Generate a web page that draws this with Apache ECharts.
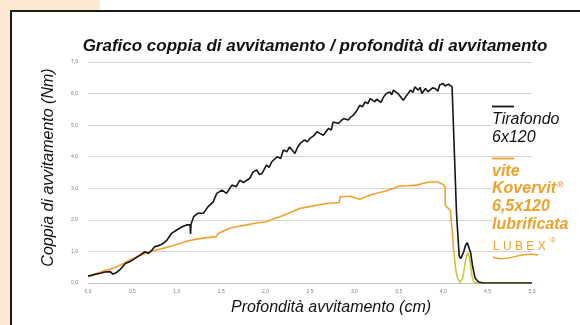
<!DOCTYPE html>
<html>
<head>
<meta charset="utf-8">
<script src="https://cdn.jsdelivr.net/npm/echarts@6/dist/echarts.min.js"></script>
<style>
  html, body { margin: 0; padding: 0; background: #ffffff; }
  #chart { width: 580px; height: 325px; }
</style>
</head>
<body>
<div id="chart"></div>
<script>
// Screw-in torque (Nm) against screw-in depth (cm)
const titleText = 'Grafico coppia di avvitamento / profondità di avvitamento';
const xAxisName = 'Profondità avvitamento (cm)';
const yAxisName = 'Coppia di avvitamento (Nm)';

// Tirafondo 6x120
const depthTirafondo = [
  0.00, 0.05, 0.10, 0.14, 0.19, 0.25, 0.28, 0.32, 0.36, 0.42, 0.47, 0.53, 0.59, 0.64, 0.68,
  0.72, 0.75, 0.81, 0.85, 0.89, 0.94, 1.00, 1.06, 1.11, 1.15, 1.155, 1.16, 1.19, 1.24, 1.30,
  1.35, 1.41, 1.45, 1.51, 1.56, 1.62, 1.67, 1.71, 1.75, 1.78, 1.82, 1.86, 1.90, 1.93, 1.96,
  2.01, 2.04, 2.07, 2.13, 2.17, 2.20, 2.24, 2.27, 2.33, 2.36, 2.39, 2.44, 2.47, 2.50, 2.54,
  2.58, 2.61, 2.65, 2.71, 2.74, 2.76, 2.82, 2.85, 2.88, 2.93, 2.96, 2.99, 3.03, 3.06, 3.09,
  3.12, 3.15, 3.18, 3.23, 3.25, 3.27, 3.30, 3.33, 3.36, 3.40, 3.42, 3.44, 3.49, 3.52, 3.55,
  3.59, 3.61, 3.63, 3.66, 3.68, 3.72, 3.74, 3.76, 3.80, 3.83, 3.85, 3.88, 3.91, 3.94, 3.96,
  4.00, 4.02, 4.04, 4.06, 4.08, 4.10, 4.12, 4.15, 4.18, 4.20, 4.23, 4.25, 4.27, 4.29, 4.31,
  4.33, 4.36, 4.40, 4.45, 5.00
];
const torqueTirafondo = [
  0.22, 0.25, 0.29, 0.31, 0.35, 0.36, 0.28, 0.33, 0.42, 0.62, 0.67, 0.78, 0.89, 0.99, 0.94,
  1.04, 1.15, 1.20, 1.26, 1.36, 1.57, 1.68, 1.78, 1.84, 1.84, 1.55, 1.86, 2.10, 2.21, 2.21,
  2.41, 2.57, 2.84, 2.94, 2.84, 3.10, 3.05, 3.26, 3.18, 3.24, 3.31, 3.52, 3.58, 3.44, 3.47,
  3.73, 3.66, 3.84, 4.00, 3.94, 4.21, 4.16, 4.31, 4.10, 4.30, 4.42, 4.53, 4.47, 4.58, 4.66,
  4.79, 4.74, 4.68, 4.90, 4.84, 5.10, 5.05, 5.14, 5.21, 5.16, 5.26, 5.32, 5.47, 5.63, 5.58,
  5.74, 5.68, 5.84, 5.74, 5.82, 5.79, 5.72, 5.90, 6.00, 6.05, 5.96, 6.11, 6.00, 5.90, 5.79,
  5.95, 6.02, 6.11, 6.04, 6.21, 6.11, 6.19, 6.00, 6.16, 6.06, 6.05, 6.18, 6.16, 6.08, 6.27,
  6.32, 6.24, 6.21, 6.30, 6.27, 6.21, 4.60, 2.20, 0.85, 0.78, 0.98, 1.18, 1.28, 1.22, 0.95,
  0.55, 0.15, 0.03, 0.00, 0.00
];

// vite Kovervit 6,5x120 lubrificata
const depthKovervit = [
  0.00, 0.10, 0.20, 0.30, 0.40, 0.47, 0.55, 0.66, 0.75, 0.85, 0.95, 1.04, 1.12, 1.22, 1.32,
  1.45, 1.46, 1.52, 1.60, 1.70, 1.79, 1.90, 2.01, 2.10, 2.16, 2.25, 2.39, 2.50, 2.60, 2.70,
  2.83, 2.84, 2.95, 3.06, 3.15, 3.25, 3.32, 3.42, 3.51, 3.60, 3.70, 3.78, 3.85, 3.94, 4.00,
  4.02, 4.025, 4.08, 4.10, 4.12, 4.14, 4.16, 4.19, 4.22, 4.24, 4.26, 4.28, 4.30, 4.32, 4.34,
  4.38, 5.00
];
const torqueKovervit = [
  0.20, 0.30, 0.40, 0.48, 0.62, 0.73, 0.83, 0.95, 1.03, 1.10, 1.18, 1.26, 1.33, 1.39, 1.43,
  1.47, 1.56, 1.64, 1.74, 1.80, 1.84, 1.90, 1.94, 2.04, 2.10, 2.20, 2.37, 2.42, 2.48, 2.52,
  2.55, 2.73, 2.75, 2.65, 2.76, 2.84, 2.89, 2.98, 3.07, 3.08, 3.10, 3.16, 3.20, 3.20, 3.12,
  3.05, 2.45, 2.31, 1.68, 1.00, 0.45, 0.16, 0.02, 0.15, 0.50, 0.83, 0.96, 0.75, 0.30, 0.05,
  0.00, 0.00
];

const yTicks = ['0,0', '1,0', '2,0', '3,0', '4,0', '5,0', '6,0', '7,0'];
const xTicks = ['0,0', '0,5', '1,0', '1,5', '2,0', '2,5', '3,0', '3,5', '4,0', '4,5', '5,0'];

const zip = (xs, ys) => xs.map((x, i) => [x, ys[i]]);

const BLACK = '#151515';
const ORANGE = '#f0a12c';
const TAIL = '#cfc63a';
const LABEL = "'Liberation Sans Narrow', 'Liberation Sans', sans-serif";
const PLAIN = "'Liberation Sans', sans-serif";

// Kovervit stroke turns yellowish once the screw head seats (canvas-space gradient)
const kovervitStroke = {
  type: 'linear', x: 0, y: 0, x2: 580, y2: 0, global: true,
  colorStops: [
    { offset: 0, color: ORANGE },
    { offset: 452 / 580, color: ORANGE },
    { offset: 456 / 580, color: TAIL },
    { offset: 1, color: TAIL }
  ]
};

const keyText = (x, y, text, color, bold) => ({
  type: 'text', x, y, silent: true, z: 100,
  style: {
    text, fill: color, backgroundColor: '#ffffff',
    fontFamily: LABEL, fontStyle: 'italic', fontWeight: bold ? 'bold' : 'normal', fontSize: 16
  }
});

const chart = echarts.init(document.getElementById('chart'), null, { renderer: 'canvas' });

chart.setOption({
  animation: false,
  backgroundColor: '#ffffff',
  title: {
    text: titleText,
    left: 310,
    top: 33,
    textAlign: 'center',
    textStyle: {
      fontFamily: LABEL,
      fontStyle: 'italic',
      fontWeight: 'bold',
      fontSize: 17,
      color: '#111111'
    }
  },
  grid: { left: 88, right: 48, top: 62, bottom: 42 },
  xAxis: {
    type: 'value',
    min: 0,
    max: 5,
    interval: 0.5,
    name: xAxisName,
    nameLocation: 'middle',
    nameGap: 17,
    nameTextStyle: {
      fontFamily: PLAIN,
      fontStyle: 'italic',
      fontSize: 16,
      color: '#111111',
      padding: [0, 0, 0, 42]
    },
    axisLine: { show: true, lineStyle: { color: '#bfc4c8', width: 1 } },
    axisTick: { show: false },
    splitLine: { show: false },
    axisLabel: {
      margin: 6,
      fontSize: 5,
      color: '#7a7a7a',
      fontFamily: PLAIN,
      formatter: v => xTicks[Math.round(v / 0.5)]
    }
  },
  yAxis: {
    type: 'value',
    min: 0,
    max: 7,
    interval: 1,
    name: yAxisName,
    nameLocation: 'middle',
    nameGap: 31,
    nameRotate: 90,
    nameTextStyle: {
      fontFamily: PLAIN,
      fontStyle: 'italic',
      fontSize: 16,
      color: '#111111',
      padding: [0, 0, 0, 10]
    },
    axisLine: { show: false },
    axisTick: { show: false },
    splitLine: { show: true, lineStyle: { color: '#d3d3d3', width: 1 } },
    axisLabel: {
      margin: 10,
      fontSize: 5,
      color: '#7a7a7a',
      fontFamily: PLAIN,
      formatter: v => yTicks[Math.round(v)]
    }
  },
  series: [
    {
      name: 'Tirafondo 6x120',
      type: 'line',
      data: zip(depthTirafondo, torqueTirafondo),
      showSymbol: false,
      lineStyle: { color: BLACK, width: 1.6 },
      itemStyle: { color: BLACK },
      z: 3
    },
    {
      name: 'vite Kovervit 6,5x120 lubrificata',
      type: 'line',
      data: zip(depthKovervit, torqueKovervit),
      showSymbol: false,
      lineStyle: { color: kovervitStroke, width: 1.6 },
      itemStyle: { color: ORANGE },
      z: 2
    }
  ],
  graphic: [
    // page background strip and frame
    { type: 'rect', shape: { x: 0, y: 0, width: 100, height: 10 }, style: { fill: '#fde9d2' }, silent: true },
    { type: 'rect', shape: { x: 0, y: 0, width: 10, height: 325 }, style: { fill: '#fde9d2' }, silent: true },
    { type: 'line', shape: { x1: 10, y1: 11, x2: 580, y2: 11 }, style: { stroke: '#1a1a1a', lineWidth: 2 }, silent: true },
    { type: 'line', shape: { x1: 11, y1: 10, x2: 11, y2: 325 }, style: { stroke: '#1a1a1a', lineWidth: 2 }, silent: true },

    // key: Tirafondo
    { type: 'line', shape: { x1: 492, y1: 106.5, x2: 514, y2: 106.5 }, style: { stroke: BLACK, lineWidth: 1.8 }, silent: true },
    keyText(492, 112, 'Tirafondo', '#111111', false),
    keyText(492, 130, '6x120', '#111111', false),

    // key: Kovervit
    { type: 'line', shape: { x1: 492, y1: 158.5, x2: 514, y2: 158.5 }, style: { stroke: ORANGE, lineWidth: 1.8 }, silent: true },
    keyText(492, 164, 'vite', ORANGE, true),
    {
      type: 'text', x: 492, y: 181, silent: true, z: 100,
      style: {
        text: '{k|Kovervit}{r|®}',
        backgroundColor: '#ffffff',
        rich: {
          k: { fill: ORANGE, fontFamily: LABEL, fontStyle: 'italic', fontWeight: 'bold', fontSize: 16 },
          r: { fill: ORANGE, fontFamily: PLAIN, fontWeight: 'bold', fontSize: 9, verticalAlign: 'top', padding: [0, 0, 6, 1] }
        }
      }
    },
    keyText(492, 199, '6,5x120', ORANGE, true),
    keyText(492, 217, 'lubrificata', ORANGE, true),
    { type: 'text', x: 493, y: 241, silent: true, style: { text: 'L U B E X', fill: ORANGE, fontFamily: PLAIN, fontSize: 12 } },
    { type: 'text', x: 550, y: 237, silent: true, style: { text: '®', fill: ORANGE, fontFamily: PLAIN, fontSize: 8 } },
    {
      type: 'bezierCurve', silent: true,
      shape: { x1: 493, y1: 257, cpx1: 505, cpy1: 263, cpx2: 522, cpy2: 251, x2: 538, y2: 255 },
      style: { stroke: ORANGE, lineWidth: 1.4, fill: null }
    }
  ]
});
</script>
</body>
</html>
